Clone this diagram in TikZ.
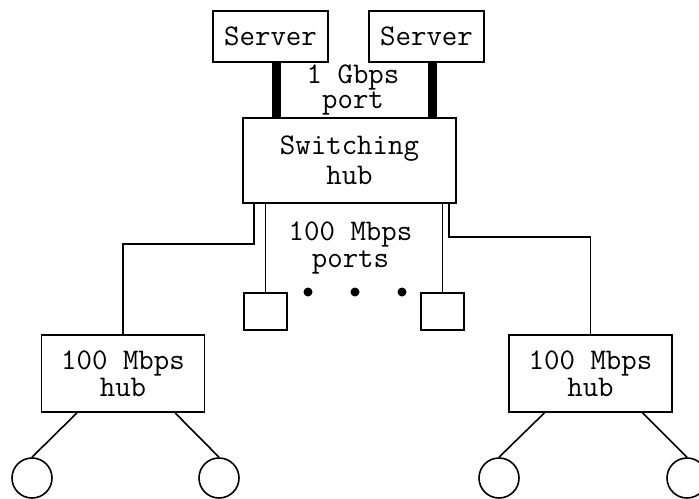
\documentclass[tikz,border=0pt]{standalone}
\usetikzlibrary{calc}
\newcommand{\netfont}{\ttfamily\fontsize{15}{13.5}\selectfont}

\begin{document}
\begin{tikzpicture}[x=0.5pt, y=-0.5pt, line width=0.8pt,
            box/.style={draw, rectangle, inner sep=0pt, align=center, font=\netfont},
            srvbox/.style={box, minimum width=57.5pt, minimum height=25.5pt},
            hubbox/.style={box, minimum width=81.5pt, minimum height=38.5pt},
            portbox/.style={draw, rectangle, inner sep=0pt, minimum width=21.5pt, minimum height=18.5pt},
            pc/.style={draw, circle, inner sep=0pt, minimum size=20pt},
            lbl/.style={inner sep=0pt, align=center, font=\netfont},
            uplink/.style={line width=4.5pt},
            dot/.style={fill, circle, inner sep=0pt, minimum size=4.5pt}
          ]
          \useasboundingbox (0,0) rectangle (699,498);
          % servers and switch
          \node[srvbox] (srvA) at (270.5,36.5) {Server};
          \node[srvbox] (srvB) at (426.5,36.5) {Server};
          \node[box, minimum width=106.5pt, minimum height=42.5pt,
                font=\ttfamily\fontsize{15}{15}\selectfont] (switch) at (349.5,160.5)
                {Switching\\hub};
          \node[lbl, font=\ttfamily\fontsize{15}{12.5}\selectfont] (gbps) at (353,90) {1 Gbps\\port};
          \draw[uplink] ([xshift=3pt]srvA.south) -- ([xshift=3pt]srvA.south |- switch.north);
          \draw[uplink] ([xshift=3pt]srvB.south) -- ([xshift=3pt]srvB.south |- switch.north);
          % 100 Mbps ports
          \node[portbox] (portL) at (265.5,311.5) {};
          \node[portbox] (portR) at (442.5,311.5) {};
          \node[lbl] (mbps) at (350.5,248) {100 Mbps\\ports};
          \foreach \x in {308,355,402}
            \node[dot] at (\x,292) {};
          \draw (portL.north |- switch.south) -- (portL.north);
          \draw (portR.north |- switch.south) -- (portR.north);
          % hubs
          \node[hubbox] (hubL) at (123,373.5) {100 Mbps\\hub};
          \node[hubbox] (hubR) at (590.5,373.5) {100 Mbps\\hub};
          \draw ($(switch.south)+(-95.5,0)$) |- ($(hubL.north)+(0,-90)$) -- (hubL.north);
          \draw ($(switch.south)+(99.5,0)$) |- ($(hubR.north)+(0,-97)$) -- (hubR.north);
          % stations
          \node[pc] (pcA) at (32,478) {};
          \node[pc] (pcB) at (219,478) {};
          \node[pc] (pcC) at (499,478) {};
          \node[pc] (pcD) at (687,478) {};
          \draw ($(hubL.south)+(-46,0)$) -- (pcA.north);
          \draw ($(hubL.south)+(52,0)$) -- (pcB.north);
          \draw ($(hubR.south)+(-46,0)$) -- (pcC.north);
          \draw ($(hubR.south)+(52,0)$) -- (pcD.north);
        \end{tikzpicture}
\end{document}
